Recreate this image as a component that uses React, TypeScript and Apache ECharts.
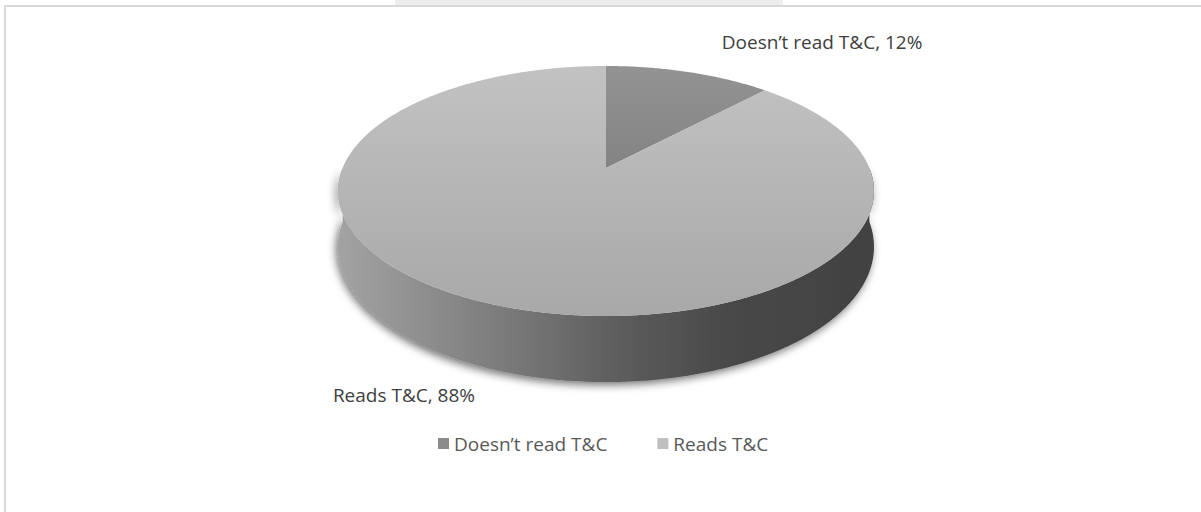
import React, { useEffect, useRef } from "react";
import * as echarts from "echarts";

const CATEGORIES = ["Doesn’t read T&C", "Reads T&C"];
const VALUES = [12, 88];
const TOP_COLORS = [
  ["#939393", "#838383"],
  ["#c2c2c2", "#a8a8a8"],
];
const LEGEND_COLORS = ["#8c8c8c", "#c0c0c0"];

// projection of the tilted disc (with perspective)
const CX = 606;
const CY = 168;
const A = 120.8; // vertical half-axis (before perspective)
const B = 263.4; // horizontal half-axis (before perspective)
const P = 0.184; // perspective strength
const DEPTH = 53.9;

function pt(theta: number, down: boolean) {
  const z = Math.cos(theta);
  const k = 1 + P * z;
  const x = CX + (B * Math.sin(theta)) / k;
  const y = CY - (A * z) / k + (down ? DEPTH / k : 0);
  return [x, y];
}

function arc(a0: number, a1: number, down: boolean) {
  const pts: number[][] = [];
  const n = Math.max(2, Math.ceil(Math.abs(a1 - a0) / (Math.PI / 360)));
  for (let i = 0; i <= n; i++) {
    pts.push(pt(a0 + ((a1 - a0) * i) / n, down));
  }
  return pts;
}

export default function App() {
  const ref = useRef<HTMLDivElement>(null);
  useEffect(() => {
    if (!ref.current) return;
    const chart = echarts.init(ref.current, null, { renderer: "svg" });
    const total = VALUES.reduce((a, b) => a + b, 0);

    const renderItem = (params: any, api: any) => {
      const idx = params.seriesIndex;
      const v = api.value(0);
      let before = 0;
      for (let i = 0; i < idx; i++) before += VALUES[i];
      const start = (before / total) * Math.PI * 2;
      const end = start + (v / total) * Math.PI * 2;
      const children: any[] = [];
      const lo = Math.max(start, Math.PI / 2);
      const hi = Math.min(end, (Math.PI * 3) / 2);
      if (lo < hi) {
        const pts = arc(lo, hi, false).concat(arc(hi, lo, true));
        children.push({
          type: "polygon",
          shape: { points: pts },
          style: {
            fill: new echarts.graphic.LinearGradient(0, 0, 1, 0, [
              { offset: 0, color: "#a3a3a3" },
              { offset: 0.3, color: "#7c7c7c" },
              { offset: 0.55, color: "#5a5a5a" },
              { offset: 0.75, color: "#474747" },
              { offset: 1, color: "#424242" },
            ]),
            shadowColor: "rgba(0,0,0,0.55)",
            shadowBlur: 8,
            shadowOffsetX: -2,
            shadowOffsetY: 3,
          },
        });
      }
      const top = [[CX, CY]].concat(arc(start, end, false));
      children.push({
        type: "polygon",
        shape: { points: top },
        style: {
          fill: new echarts.graphic.LinearGradient(0, 0, 0, 1, [
            { offset: 0, color: TOP_COLORS[idx][0] },
            { offset: 1, color: TOP_COLORS[idx][1] },
          ]),
        },
      });
      const mid = (start + end) / 2;
      const right = Math.sin(mid) > 0;
      const anchor = pt(mid, !right);
      children.push({
        type: "text",
        x: anchor[0] + (right ? 33 : -14),
        y: anchor[1] + (right ? -30 : 26),
        style: {
          text: `${CATEGORIES[idx]}, ${v}%`,
          fill: "#404040",
          font: '19px "Open Sans"',
          align: right ? "left" : "right",
          verticalAlign: "middle",
        },
      });
      return { type: "group", children };
    };

    chart.setOption({
      animation: false,
      legend: {
        data: CATEGORIES,
        left: 438,
        top: 434,
        padding: 0,
        icon: "rect",
        itemWidth: 11,
        itemHeight: 11,
        itemGap: 50,
        textStyle: { fontFamily: "Open Sans", fontSize: 19, color: "#595959" },
      },
      graphic: [
        {
          type: "rect",
          shape: { x: 395, y: 0, width: 388, height: 6 },
          style: { fill: "#ededed" },
          silent: true,
        },
        {
          type: "rect",
          shape: { x: 5, y: 6, width: 1300, height: 600 },
          style: { fill: "none", stroke: "#d9d9d9", lineWidth: 2 },
          silent: true,
        },
      ],
      series: CATEGORIES.map((name, i) => ({
        type: "custom",
        name,
        coordinateSystem: "none",
        itemStyle: { color: LEGEND_COLORS[i] },
        data: [[VALUES[i]]],
        renderItem,
      })),
    });
    return () => chart.dispose();
  }, []);
  return (
    <div
      ref={ref}
      style={{ position: "fixed", left: 0, top: 0, width: 1201, height: 512, background: "#fff" }}
    />
  );
}
